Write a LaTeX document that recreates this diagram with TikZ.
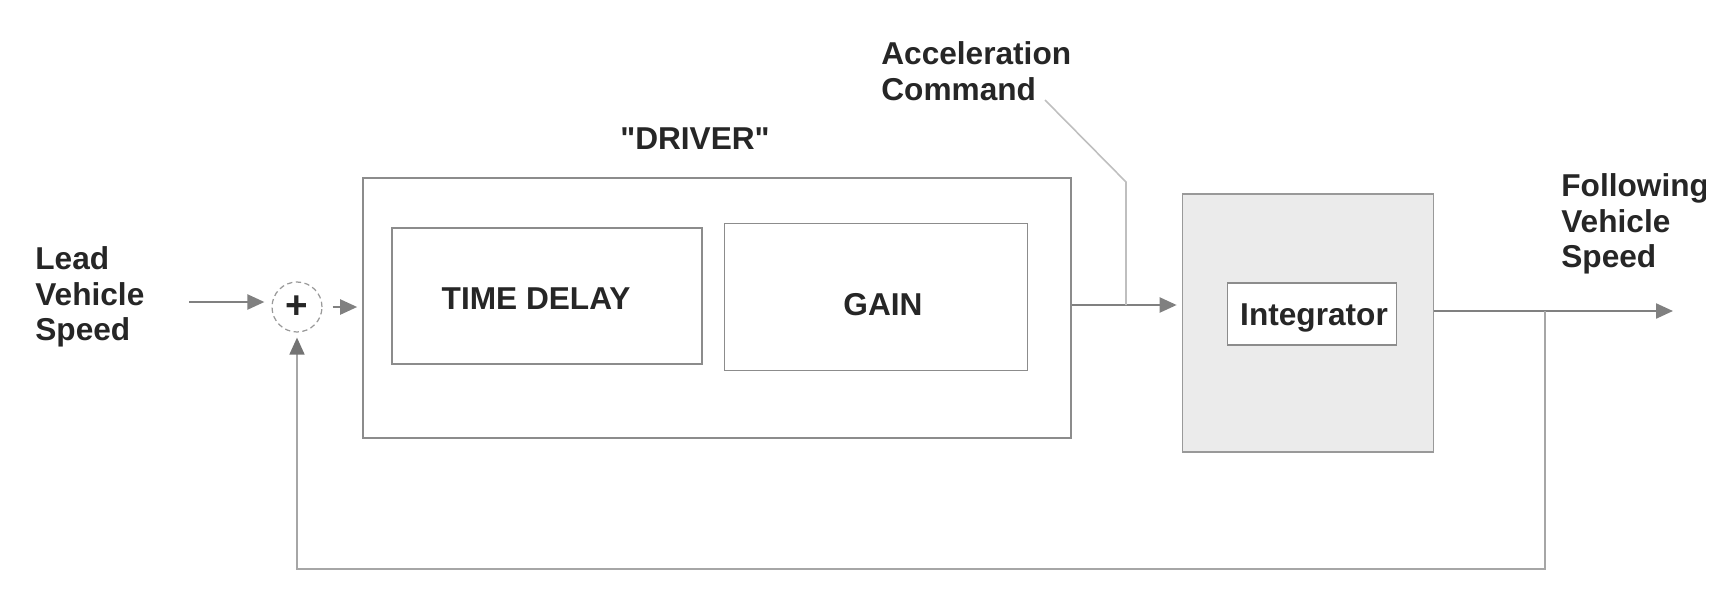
\documentclass[tikz,border=0pt]{standalone}
\usepackage{fontspec}
\setmainfont{Liberation Sans}[Ligatures=TeXOff]
\usetikzlibrary{positioning,arrows.meta}

\begin{document}
\begin{tikzpicture}[x=0.02cm,y=-0.02cm,
  lbl/.style={font=\fontsize{18}{20.3}\selectfont\bfseries,text=black!85,align=left,inner sep=0pt},
  blk/.style={draw=black!45,line width=1pt,fill=white,inner sep=0pt},
  sig/.style={draw=black!50,line width=1.3pt,-{Triangle[length=0.34cm,width=0.3cm]}},
  fb/.style={draw=black!35,line width=1pt,-{Triangle[length=0.34cm,width=0.3cm,color=black!55]}},
  leader/.style={draw=black!25,line width=0.9pt}]
\useasboundingbox (0,0) rectangle (1726,602);
%
\node[blk,minimum width=14.16cm,minimum height=5.2cm] (driver) at (717,308) {};
\node[blk,minimum width=6.2cm,minimum height=2.72cm] (delay) at (547,296) {};
\node[blk,minimum width=6.06cm,minimum height=2.94cm] (gain) at (876,297) {};
\node[blk,fill=black!8,draw=black!40,minimum width=5.02cm,minimum height=5.16cm] (integ) at (1308,323) {};
\node[blk,minimum width=3.38cm,minimum height=1.24cm] (intbox) at (1312,314) {};
\node[circle,draw=black!40,line width=0.7pt,densely dashed,minimum size=1.0cm,inner sep=0pt,
  font=\fontsize{22}{22}\selectfont\bfseries,text=black!85] (sum) at (297,307) {+};
%
\node[lbl] (delaytxt) at (536,299) {TIME DELAY};
\node[lbl] (gaintxt) at (883,305) {GAIN};
\node[lbl] (inttxt) at (1314,318) {Integrator};
\node[lbl] (drvlbl) at (695,139) {"DRIVER"};
\node[lbl,anchor=west] (lead) at (35,297) {Lead\\Vehicle\\Speed};
\node[lbl,anchor=west] (accel) at (881,71) {Acceleration\\Command};
\begin{scope}
\clip (0,0) rectangle (1705,602);
\node[lbl,anchor=west] (follow) at (1561,224) {Following\\Vehicle\\Speed};
\end{scope}
%
\coordinate (in) at (189,302);
\coordinate (mid) at (1126,305);
\coordinate (bend) at (1126,182);
\coordinate (accend) at (1045,100);
\coordinate (out) at (1673,311);
\coordinate (tap) at (1545,311);
%
\draw[sig,shorten >=0.14cm] (in) -- (sum.west |- in);
\draw[sig,shorten <=0.2cm,shorten >=0.1cm] (sum.east) -- (driver.west |- sum.east);
\draw[sig,shorten >=0.1cm] (driver.east |- mid) -- (integ.west |- mid);
\draw[leader] (accend) -- (bend) -- (mid);
\draw[sig] (integ.east |- out) -- (out);
\draw[fb,shorten >=0.1cm] (tap) -- (tap |- 0,569) -| (sum.south);
\end{tikzpicture}
\end{document}
